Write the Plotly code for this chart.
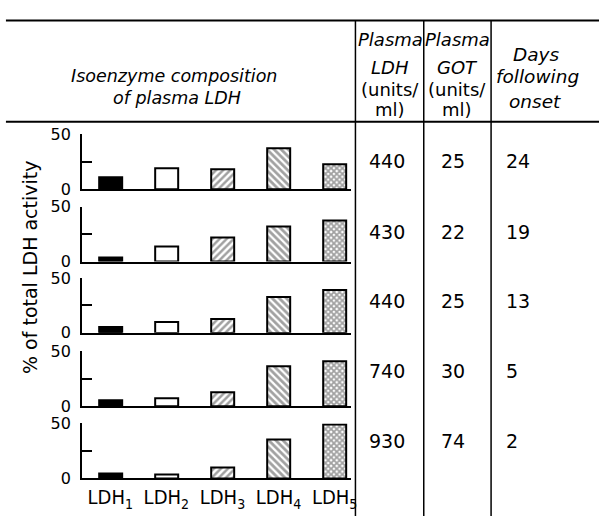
import plotly.graph_objects as go

# ---- data ----
isoenzymes = ["LDH<sub>1</sub>", "LDH<sub>2</sub>", "LDH<sub>3</sub>", "LDH<sub>4</sub>", "LDH<sub>5</sub>"]
days_following_onset = [24, 19, 13, 5, 2]
plasma_ldh = [440, 430, 440, 740, 930]
plasma_got = [25, 22, 25, 30, 74]
pct_day24 = [11, 19, 18, 37.5, 23]
pct_day19 = [4, 14, 22, 31.5, 37.5]
pct_day13 = [5, 10, 12.5, 33, 39]
pct_day5 = [5, 7, 13, 36, 41]
pct_day2 = [4.5, 4, 10, 35, 49]
panels = [pct_day24, pct_day19, pct_day13, pct_day5, pct_day2]
y_ticks = [0, 25, 50]
y_ticktext = ["0", "", "50"]

# ---- styles / geometry (screen pixels) ----
FW, FH = 605, 526
FONT = "DejaVu Sans"
NARROW = "Liberation Sans Narrow, DejaVu Sans Condensed, Liberation Sans"
bar_colors = ["black", "white", "white", "white", "white"]
bar_shapes = ["", "", "/", "\\", "x"]
bar_sizes = [5, 5, 5, 5, 4]
bar_solidity = [0.4, 0.4, 0.5, 0.55, 0.7]


def px(x):
    return x / FW


def py(y):
    return 1 - y / FH


baselines = [187, 262, 336, 412, 487]
tops = [130, 205, 279, 355, 430]
x_left, x_right = 83, 355

fig = go.Figure()
xidx = list(range(len(isoenzymes)))
for i, vals in enumerate(panels):
    n = "" if i == 0 else str(i + 1)
    fig.add_trace(go.Bar(
        x=xidx, y=vals, xaxis="x" + n, yaxis="y" + n, width=0.41,
        marker=dict(color=bar_colors, line=dict(color="black", width=2),
                    pattern=dict(shape=bar_shapes, fgcolor="black", bgcolor="white",
                                 fillmode="overlay", size=bar_sizes, solidity=bar_solidity)),
        showlegend=False, hoverinfo="skip"))
    last = i == len(panels) - 1
    fig.layout["xaxis" + n] = dict(
        domain=[px(x_left), px(x_right)], range=[-0.5, 4.3], anchor="y" + n,
        showline=True, linecolor="black", linewidth=2, showgrid=False, zeroline=False,
        tickvals=xidx, ticktext=isoenzymes if last else None, showticklabels=last,
        ticks="", tickfont=dict(family=NARROW, size=20, color="black"))
    fig.layout["yaxis" + n] = dict(
        domain=[py(baselines[i]), py(tops[i])], range=[0, 50], anchor="x" + n,
        showline=True, linecolor="black", linewidth=2, showgrid=False, zeroline=False,
        tickvals=y_ticks, ticktext=y_ticktext, ticks="inside", ticklen=10, tickwidth=2,
        tickcolor="black", ticklabelstandoff=6,
        tickfont=dict(family=FONT, size=16, color="black"))


def note(x, y, text, size, xanchor="center", **kw):
    return dict(x=px(x), y=py(y), text=text, showarrow=False, xref="paper", yref="paper",
                xanchor=xanchor, yanchor="middle",
                font=dict(family=FONT, size=size, color="black"), **kw)


ann = []
row_y = [158, 231, 303, 376, 448]
for i in range(len(panels)):
    ann.append(note(391, row_y[i], str(plasma_ldh[i]), 19))
    ann.append(note(458, row_y[i], str(plasma_got[i]), 19))
    ann.append(note(509, row_y[i], str(days_following_onset[i]), 19, xanchor="left"))

# headers
ann.append(note(176, 70, "<i>Isoenzyme composition</i>", 17.5))
ann.append(note(179, 92, "<i>of plasma LDH</i>", 17.5))
for cx, analyte in [(394, "LDH"), (462, "GOT")]:
    ann.append(note(cx, 32, "<i>Plasma</i>", 18))
    ann.append(note(cx, 61, "<i>%s</i>" % analyte, 18))
    ann.append(note(cx, 84, "(units/", 18))
    ann.append(note(cx, 104, "ml)", 18))
ann.append(note(542, 47, "<i>Days</i>", 18.5))
ann.append(note(543, 70, "<i>following</i>", 18.5))
ann.append(note(540, 96, "<i>onset</i>", 18.5))
# y axis title
ann.append(note(31, 268, "% of total LDH activity", 19, textangle=-90))

shapes = [
    dict(type="line", xref="paper", yref="paper", x0=px(6), x1=px(605), y0=py(12), y1=py(12),
         line=dict(color="black", width=2)),
    dict(type="line", xref="paper", yref="paper", x0=px(6), x1=px(605), y0=py(117), y1=py(117),
         line=dict(color="black", width=2)),
]
for xv in [359, 428, 496]:
    shapes.append(dict(type="line", xref="paper", yref="paper", x0=px(xv), x1=px(xv),
                       y0=py(12), y1=py(526), line=dict(color="black", width=1.5)))

fig.update_layout(width=FW, height=FH, margin=dict(l=0, r=0, t=0, b=0),
                  paper_bgcolor="white", plot_bgcolor="white",
                  annotations=ann, shapes=shapes, bargap=0)
fig.write_html("out.html", config={"responsive": False})
